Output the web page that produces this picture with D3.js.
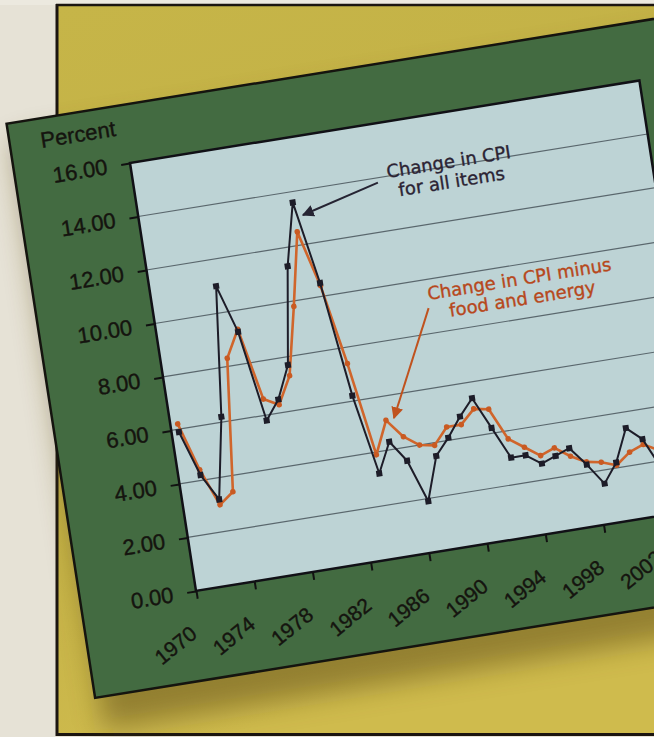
<!DOCTYPE html>
<html>
<head>
<meta charset="utf-8">
<script src="https://cdn.jsdelivr.net/npm/d3@7/dist/d3.min.js"></script>
<style>
  html, body { margin: 0; padding: 0; background: #e6e2d6; }
  svg { display: block; }
</style>
</head>
<body>
<svg id="chart" width="654" height="737"></svg>
<script>
// Annual percent change in the Consumer Price Index
const years = [1970, 1971, 1972, 1973, 1974, 1975, 1976, 1977, 1978, 1979,
               1980, 1981, 1982, 1983, 1984, 1985, 1986, 1987, 1988, 1989,
               1990, 1991, 1992, 1993, 1994, 1995, 1996, 1997, 1998, 1999,
               2000, 2001, 2002];
const cpiAllItems = [5.9, 4.2, 3.2, 6.2, 11.0, 9.2, 5.8, 6.5, 7.7, 11.3,
                     13.6, 10.5, 6.2, 3.2, 4.3, 3.5, 1.9, 3.5, 4.1, 4.8,
                     5.4, 4.2, 3.0, 3.0, 2.6, 2.8, 3.0, 2.3, 1.5, 2.2,
                     3.4, 2.9, 1.7];
const cpiCore = [6.2, 4.4, 3.0, 3.4, 8.3, 9.3, 6.6, 6.3, 7.3, 9.8,
                 12.5, 10.4, 7.4, 3.9, 5.1, 4.4, 4.0, 3.9, 4.5, 4.5,
                 5.0, 4.9, 3.7, 3.3, 2.9, 3.1, 2.7, 2.4, 2.3, 2.1,
                 2.5, 2.7, 2.4];
const xTickYears = [1970, 1974, 1978, 1982, 1986, 1990, 1994, 1998, 2002];
const yTickValues = [0, 2, 4, 6, 8, 10, 12, 14, 16];
const yLabel = "Percent";
const noteAll = ["Change in CPI", "for all items"];
const noteCore = ["Change in CPI minus", "food and energy"];

const svg = d3.select("#chart");
const W = 516, H = 433;

// page background, yellow card and its frame
const defs = svg.append("defs");
const grad = defs.append("linearGradient").attr("id", "cardFill")
  .attr("x1", 0).attr("y1", 0).attr("x2", 0.3).attr("y2", 1);
grad.append("stop").attr("offset", "0").attr("stop-color", "#c6b548");
grad.append("stop").attr("offset", "0.6").attr("stop-color", "#c2b046");
grad.append("stop").attr("offset", "1").attr("stop-color", "#cfbb4d");
defs.append("filter").attr("id", "soft").attr("x", "-20%").attr("y", "-20%")
  .attr("width", "140%").attr("height", "140%")
  .append("feGaussianBlur").attr("stdDeviation", 14);

svg.append("rect").attr("width", 654).attr("height", 737).attr("fill", "#e6e2d6");
svg.append("rect").attr("x", 0).attr("y", 0).attr("width", 654).attr("height", 5).attr("fill", "#ece9df");
svg.append("rect").attr("x", 57).attr("y", 5).attr("width", 597).attr("height", 729)
  .attr("fill", "url(#cardFill)");

const frame = svg.append("g").attr("stroke", "#1b1510").attr("fill", "none");
frame.append("line").attr("x1", 56).attr("x2", 654).attr("y1", 5).attr("y2", 5).attr("stroke-width", 2.5);
frame.append("line").attr("x1", 57).attr("x2", 57).attr("y1", 4).attr("y2", 736).attr("stroke-width", 3);
frame.append("line").attr("x1", 56).attr("x2", 654).attr("y1", 734.5).attr("y2", 734.5).attr("stroke-width", 3);

// tilted sheet: local chart coordinates mapped onto the page
const sheet = svg.append("g")
  .attr("transform", "matrix(0.9872,-0.1599,0.1524,0.9883,130,163)");

// cast shadow below the green sheet
sheet.append("rect")
  .attr("x", -112).attr("y", -40).attr("width", 690).attr("height", 595)
  .attr("fill", "#5a4712").attr("opacity", 0.5).attr("filter", "url(#soft)");

sheet.append("rect")
  .attr("x", -116).attr("y", -58.5).attr("width", 700).attr("height", 581)
  .attr("fill", "#436b41").attr("stroke", "#15140f").attr("stroke-width", 2.5);

sheet.append("rect")
  .attr("x", 0).attr("y", 0).attr("width", W).attr("height", H)
  .attr("fill", "#bdd3d5");

const x = d3.scaleLinear().domain([1970, 2005]).range([0, W]);
const y = d3.scaleLinear().domain([0, 16]).range([H, 0]);

// horizontal gridlines
sheet.append("g").selectAll("line")
  .data(yTickValues.filter(v => v > 0 && v < 16))
  .join("line")
  .attr("x1", 0).attr("x2", W)
  .attr("y1", d => y(d)).attr("y2", d => y(d))
  .attr("stroke", "#5a676d").attr("stroke-width", 1.2);

sheet.append("rect")
  .attr("x", 0).attr("y", 0).attr("width", W).attr("height", H)
  .attr("fill", "none").attr("stroke", "#111016").attr("stroke-width", 2.5);

// axes
const labelFont = "'Liberation Sans', Arial, sans-serif";
const yAxis = sheet.append("g")
  .call(d3.axisLeft(y).tickValues(yTickValues).tickSize(9).tickPadding(14)
    .tickFormat(d3.format(".2f")));
yAxis.select(".domain").remove();
yAxis.selectAll("line").attr("stroke", "#111").attr("stroke-width", 2);
yAxis.selectAll("text").attr("font-family", labelFont)
  .attr("font-size", 22).attr("fill", "#15140f")
  .attr("stroke", "#15140f").attr("stroke-width", 0.4);

const xAxis = sheet.append("g").attr("transform", `translate(0,${H})`)
  .call(d3.axisBottom(x).tickValues(xTickYears).tickSize(8).tickFormat(d3.format("d")));
xAxis.select(".domain").remove();
xAxis.selectAll("line").attr("stroke", "#111").attr("stroke-width", 2);
xAxis.selectAll("text")
  .attr("font-family", labelFont)
  .attr("font-size", 21).attr("fill", "#15140f")
  .attr("stroke", "#15140f").attr("stroke-width", 0.4)
  .attr("text-anchor", "end").attr("x", 0).attr("y", 0).attr("dy", 0)
  .attr("transform", "translate(-5,45) rotate(-30)");

sheet.append("text")
  .attr("x", -85).attr("y", -29)
  .attr("font-family", labelFont)
  .attr("font-size", 22).attr("fill", "#15140f")
  .attr("stroke", "#15140f").attr("stroke-width", 0.4)
  .text(yLabel);

// series
const rowsAll = years.map((yr, i) => ({ t: yr + 0.5, v: cpiAllItems[i] }));
const rowsCore = years.map((yr, i) => ({ t: yr + 0.5, v: cpiCore[i] }));
const line = d3.line().x(d => x(d.t)).y(d => y(d.v));

sheet.append("path").datum(rowsCore)
  .attr("fill", "none").attr("stroke", "#d0652b").attr("stroke-width", 2.6)
  .attr("stroke-linejoin", "round").attr("d", line);
sheet.append("g").selectAll("circle").data(rowsCore).join("circle")
  .attr("cx", d => x(d.t)).attr("cy", d => y(d.v)).attr("r", 2.8)
  .attr("fill", "#c95a22");

sheet.append("path").datum(rowsAll)
  .attr("fill", "none").attr("stroke", "#1d1c28").attr("stroke-width", 2)
  .attr("stroke-linejoin", "round").attr("d", line);
sheet.append("g").selectAll("rect").data(rowsAll).join("rect")
  .attr("x", d => x(d.t) - 3).attr("y", d => y(d.v) - 3)
  .attr("width", 6).attr("height", 6).attr("fill", "#1d1c28");

// annotations
defs.append("marker").attr("id", "headDark").attr("viewBox", "0 0 10 10")
  .attr("refX", 9).attr("refY", 5).attr("markerWidth", 6).attr("markerHeight", 6)
  .attr("orient", "auto-start-reverse")
  .append("path").attr("d", "M0,0 L10,5 L0,10 Z").attr("fill", "#262433");
defs.append("marker").attr("id", "headOrange").attr("viewBox", "0 0 10 10")
  .attr("refX", 9).attr("refY", 5).attr("markerWidth", 6).attr("markerHeight", 6)
  .attr("orient", "auto-start-reverse")
  .append("path").attr("d", "M0,0 L10,5 L0,10 Z").attr("fill", "#c0521e");

sheet.append("line")
  .attr("x1", 242).attr("y1", 59).attr("x2", 163).attr("y2", 79)
  .attr("stroke", "#262433").attr("stroke-width", 2)
  .attr("marker-end", "url(#headDark)");
sheet.append("line")
  .attr("x1", 273).attr("y1", 191).attr("x2", 222).attr("y2", 294)
  .attr("stroke", "#c0521e").attr("stroke-width", 2)
  .attr("marker-end", "url(#headOrange)");

const noteFont = "'DejaVu Sans', Verdana, sans-serif";
sheet.append("text").attr("font-family", noteFont).attr("font-size", 18)
  .attr("fill", "#2b2333").attr("stroke", "#2b2333").attr("stroke-width", 0.35)
  .attr("text-anchor", "middle")
  .selectAll("tspan").data(noteAll).join("tspan")
  .attr("x", 315).attr("y", (d, i) => 56 + i * 20).text(d => d);
sheet.append("text").attr("font-family", noteFont).attr("font-size", 18)
  .attr("fill", "#b7481c").attr("stroke", "#b7481c").attr("stroke-width", 0.35)
  .attr("text-anchor", "middle")
  .selectAll("tspan").data(noteCore).join("tspan")
  .attr("x", 367).attr("y", (d, i) => 183 + i * 20).text(d => d);
</script>
</body>
</html>
